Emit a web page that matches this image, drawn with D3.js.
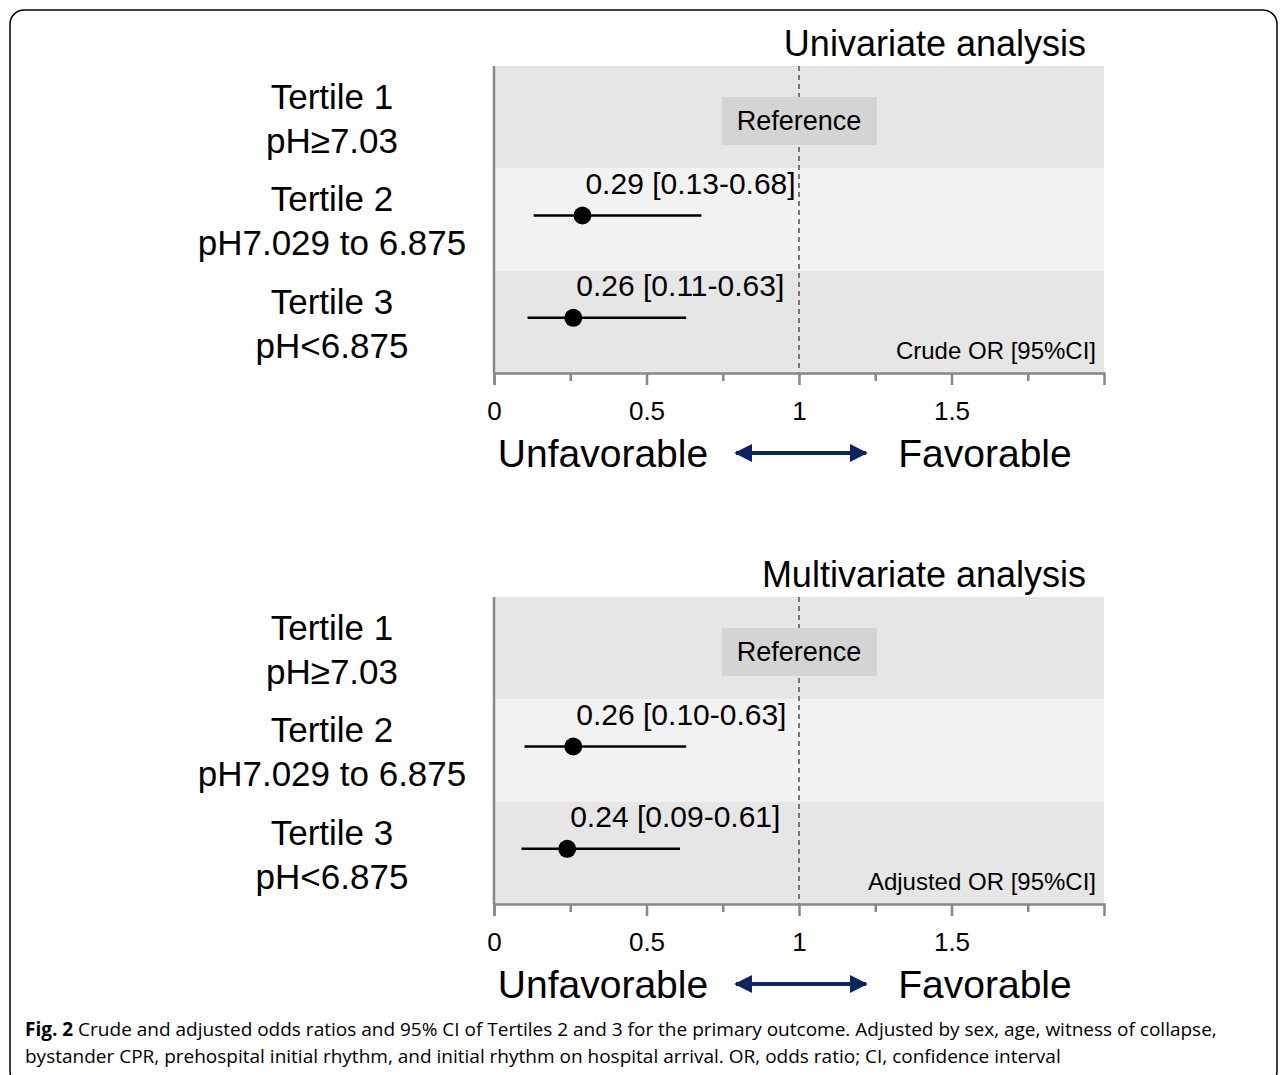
<!DOCTYPE html>
<html><head><meta charset="utf-8">
<script src="https://cdn.jsdelivr.net/npm/d3@7"></script>
<style>body{margin:0;background:#fff}svg{display:block}</style>
</head><body>
<script>
// data
var rowLabels = [["Tertile 1","pH\u22657.03"],["Tertile 2","pH7.029 to 6.875"],["Tertile 3","pH<6.875"]];
var panelTitles = ["Univariate analysis","Multivariate analysis"];
var panelNotes = ["Crude OR [95%CI]","Adjusted OR [95%CI]"];
var crudeOR = [null,0.29,0.26], crudeLo = [null,0.13,0.11], crudeHi = [null,0.68,0.63];
var adjOR = [null,0.26,0.24], adjLo = [null,0.10,0.09], adjHi = [null,0.63,0.61];
var estLabels = [[null,"0.29 [0.13-0.68]","0.26 [0.11-0.63]"],[null,"0.26 [0.10-0.63]","0.24 [0.09-0.61]"]];
var tickMajor = [0,0.5,1,1.5], tickMinor = [0.25,0.75,1.25,1.75];

var W = 1287, H = 1075;
var svg = d3.select("body").append("svg").attr("width",W).attr("height",H)
  .style("font-family","Liberation Sans, Arial, sans-serif");
svg.append("rect").attr("x",10).attr("y",10).attr("width",1267).attr("height",1075)
  .attr("rx",14).attr("fill","none").attr("stroke","#000").attr("stroke-width",1.5);

var x = d3.scaleLinear().domain([0,2]).range([494,1104]);
var defs = svg.append("defs");
var m = defs.append("marker").attr("id","ah").attr("viewBox","0 0 10 10").attr("refX",9).attr("refY",5)
  .attr("markerWidth",4.5).attr("markerHeight",4.5).attr("orient","auto-start-reverse");
m.append("path").attr("d","M0,0L10,5L0,10z").attr("fill","#0b2563");

function panel(p, top, est, lo, hi) {
  var g = svg.append("g");
  var y = d3.scaleBand().domain([0,1,2]).range([top, top+307]);
  g.append("text").attr("x",1086).attr("y",top-10).attr("text-anchor","end")
    .attr("font-size",36).text(panelTitles[p]);
  g.selectAll("rect.band").data([0,1,2]).enter().append("rect")
    .attr("x",x(0)).attr("width",x(2)-x(0)).attr("y",function(d){return y(d);})
    .attr("height",y.bandwidth()).attr("fill",function(d){return d==1?"#f2f2f2":"#e6e6e6";});
  rowLabels.forEach(function(l,i){
    g.append("text").attr("x",332).attr("y",y(i)+43).attr("text-anchor","middle").attr("font-size",35).text(l[0]);
    g.append("text").attr("x",332).attr("y",y(i)+87).attr("text-anchor","middle").attr("font-size",35).text(l[1]);
  });
  // reference line
  g.append("line").attr("x1",x(1)).attr("x2",x(1)).attr("y1",top).attr("y2",top+307)
    .attr("stroke","#777").attr("stroke-width",2).attr("stroke-dasharray","5,4");
  g.append("rect").attr("x",x(1)-77).attr("y",top+31).attr("width",155).attr("height",48).attr("fill","#d4d4d4");
  g.append("text").attr("x",x(1)).attr("y",top+64).attr("text-anchor","middle").attr("font-size",27).text("Reference");
  // axes
  g.append("line").attr("x1",x(0)).attr("x2",x(0)).attr("y1",top).attr("y2",top+307).attr("stroke","#888").attr("stroke-width",2.5);
  var ax = d3.axisBottom(x).tickValues(tickMajor).tickSize(12).tickPadding(17).tickFormat(d3.format("~g"));
  var ag = g.append("g").attr("transform","translate(0,"+(top+307)+")").call(ax);
  ag.select(".domain").attr("stroke","#888").attr("stroke-width",2.5);
  ag.selectAll(".tick line").attr("stroke","#888").attr("stroke-width",2.5);
  ag.selectAll(".tick text").attr("font-size",26).attr("fill","#000").attr("font-family","Liberation Sans, Arial, sans-serif");
  var ax2 = d3.axisBottom(x).tickValues(tickMinor).tickSize(8).tickFormat("");
  var ag2 = g.append("g").attr("transform","translate(0,"+(top+307)+")").call(ax2);
  ag2.select(".domain").remove();
  ag2.selectAll(".tick line").attr("stroke","#888").attr("stroke-width",2.5);
  // estimates
  [1,2].forEach(function(i){
    var cy = y(i)+y.bandwidth()/2 - 4;
    g.append("line").attr("x1",x(lo[i])).attr("x2",x(hi[i])).attr("y1",cy).attr("y2",cy).attr("stroke","#000").attr("stroke-width",2.5);
    g.append("circle").attr("cx",x(est[i])).attr("cy",cy).attr("r",9).attr("fill","#000");
    g.append("text").attr("x",x(est[i])+3).attr("y",cy-22).attr("font-size",30).text(estLabels[p][i]);
  });
  g.append("text").attr("x",1096).attr("y",top+293).attr("text-anchor","end").attr("font-size",24).text(panelNotes[p]);
  // direction
  var ly = top+401;
  g.append("text").attr("x",603).attr("y",ly).attr("text-anchor","middle").attr("font-size",39).text("Unfavorable");
  g.append("text").attr("x",985).attr("y",ly).attr("text-anchor","middle").attr("font-size",39).text("Favorable");
  g.append("line").attr("x1",736).attr("x2",866).attr("y1",ly-14).attr("y2",ly-14).attr("stroke","#0b2563").attr("stroke-width",4)
    .attr("marker-start","url(#ah)").attr("marker-end","url(#ah)");
}
panel(0, 66, crudeOR, crudeLo, crudeHi);
panel(1, 597, adjOR, adjLo, adjHi);

var cap = svg.append("g").style("font-family","Open Sans, sans-serif").attr("font-size",19);
var t1 = cap.append("text").attr("x",25).attr("y",1036);
t1.append("tspan").attr("font-weight","bold").text("Fig. 2");
t1.append("tspan").text(" Crude and adjusted odds ratios and 95% CI of Tertiles 2 and 3 for the primary outcome. Adjusted by sex, age, witness of collapse,");
cap.append("text").attr("x",25).attr("y",1063).text("bystander CPR, prehospital initial rhythm, and initial rhythm on hospital arrival. OR, odds ratio; CI, confidence interval");
</script>
</body></html>
